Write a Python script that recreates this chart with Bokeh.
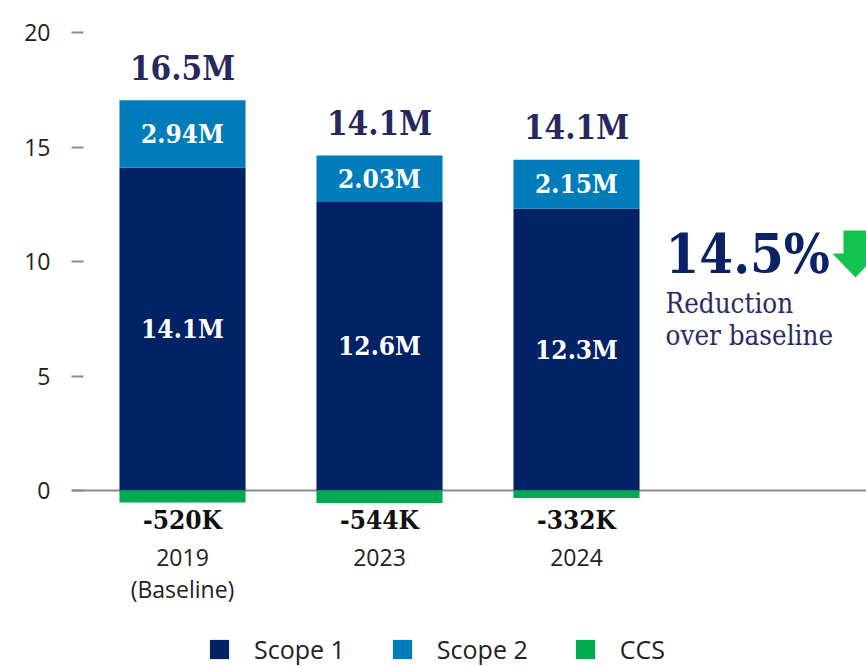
import numpy as np
from bokeh.plotting import figure
from bokeh.models import ColumnDataSource, Range1d, FixedTicker, Span, Legend, LegendItem
from bokeh.core.properties import value
from bokeh.embed import file_html
from bokeh.resources import INLINE

# ---- data ----
years = ["2019\n(Baseline)", "2023", "2024"]
scope1 = [14.1, 12.6, 12.3]
scope2 = [2.94, 2.03, 2.15]
ccs = [-0.52, -0.544, -0.332]
total_labels = ["16.5M", "14.1M", "14.1M"]
scope1_labels = ["14.1M", "12.6M", "12.3M"]
scope2_labels = ["2.94M", "2.03M", "2.15M"]
ccs_labels = ["-520K", "-544K", "-332K"]
y_ticks = [0, 5, 10, 15, 20]
reduction_pct = "14.5%"
reduction_lines = ["Reduction", "over baseline"]

# ---- style ----
C_S1 = "#022266"
C_S2 = "#007CBA"
C_CCS = "#00AA50"
C_ARROW = "#14C24F"
BOLD = "DejaVu Serif Condensed"
SANS = "Open Sans"

x = np.arange(len(years))
s1 = np.array(scope1)
s2 = np.array(scope2)
cc = np.array(ccs)

src = ColumnDataSource(dict(
    x=x,
    s1_bottom=np.zeros(len(x)), s1_top=s1,
    s2_bottom=s1, s2_top=s1 + s2,
    cc_bottom=cc, cc_top=np.zeros(len(x)),
    s1_mid=s1 / 2, s2_mid=s1 + s2 / 2,
    tot_y=s1 + s2 + 1.4,
    cc_y=np.full(len(x), -1.27),
    tot_lab=total_labels, s1_lab=scope1_labels, s2_lab=scope2_labels, cc_lab=ccs_labels,
))

p = figure(frame_width=795, frame_height=666,
           x_range=Range1d(-0.5635, 3.472), y_range=Range1d(-7.686, 21.40),
           output_backend="svg", toolbar_location=None,
           min_border_left=71, min_border_right=0, min_border_top=0, min_border_bottom=0)
p.outline_line_color = None
p.xgrid.visible = False
p.ygrid.visible = False
p.background_fill_color = "white"
p.border_fill_color = "white"

zero = Span(location=0, dimension="width", line_color="#8c8c8c", line_width=2, level="underlay")
p.add_layout(zero)

BW = 0.64
r1 = p.vbar(x="x", bottom="s1_bottom", top="s1_top", width=BW, source=src, fill_color=C_S1, line_color=None)
r2 = p.vbar(x="x", bottom="s2_bottom", top="s2_top", width=BW, source=src, fill_color=C_S2, line_color=None)
r3 = p.vbar(x="x", bottom="cc_bottom", top="cc_top", width=BW, source=src, fill_color=C_CCS, line_color=None)

p.text(x="x", y="tot_y", text="tot_lab", source=src, text_align="center", text_baseline="middle",
       text_font=value(BOLD), text_font_style="bold", text_font_size="33px", text_color="#27295E")
p.text(x="x", y="s2_mid", text="s2_lab", source=src, text_align="center", text_baseline="middle",
       text_font=value(BOLD), text_font_style="bold", text_font_size="26px", text_color="white")
p.text(x="x", y="s1_mid", text="s1_lab", source=src, text_align="center", text_baseline="middle",
       text_font=value(BOLD), text_font_style="bold", text_font_size="26px", text_color="white")
p.text(x="x", y="cc_y", text="cc_lab", source=src, text_align="center", text_baseline="middle",
       text_font=value(BOLD), text_font_style="bold", text_font_size="26px", text_color="#111111")

# annotation
NOTE_X = 2.452
p.text(x=[NOTE_X], y=[10.31], text=[reduction_pct], text_align="left", text_baseline="middle",
       text_font=value(BOLD), text_font_style="bold", text_font_size="54px", text_color="#0B2266")
p.text(x=[NOTE_X, NOTE_X], y=[8.17, 6.77], text=reduction_lines, text_align="left", text_baseline="middle",
       text_font=value(BOLD), text_font_size="27.5px", text_color="#2A2D63")
# down arrow
ax, ay = 3.416, 9.30          # tip
hw, hh, sw, sh = 0.117, 1.05, 0.061, 1.0
p.patch(x=[ax, ax - hw, ax - sw, ax - sw, ax + sw, ax + sw, ax + hw],
        y=[ay, ay + hh, ay + hh, ay + hh + sh, ay + hh + sh, ay + hh, ay + hh],
        fill_color=C_ARROW, line_color=None)

# axes
p.yaxis.ticker = FixedTicker(ticks=y_ticks)
p.yaxis.axis_line_color = None
p.yaxis.major_tick_in = 12
p.yaxis.major_tick_out = 0
p.yaxis.major_tick_line_color = "#8c8c8c"
p.yaxis.major_tick_line_width = 2
p.yaxis.minor_tick_line_color = None
p.yaxis.major_label_standoff = 21
p.yaxis.major_label_text_font = SANS
p.yaxis.major_label_text_font_size = "23px"
p.yaxis.major_label_text_color = "#222222"

p.xaxis.fixed_location = -2.096
p.xaxis.ticker = FixedTicker(ticks=list(x))
p.xaxis.major_label_overrides = {int(i): years[i] for i in range(len(years))}
p.xaxis.axis_line_color = None
p.xaxis.major_tick_line_color = None
p.xaxis.major_tick_in = 0
p.xaxis.major_tick_out = 0
p.xaxis.minor_tick_line_color = None
p.xaxis.minor_tick_out = 0
p.xaxis.major_label_standoff = 2
p.xaxis.major_label_text_font = SANS
p.xaxis.major_label_text_font_size = "23px"
p.xaxis.major_label_text_color = "#222222"
p.xaxis.major_label_text_line_height = 1.0

legend = Legend(items=[LegendItem(label="Scope 1", renderers=[r1]),
                       LegendItem(label="Scope 2", renderers=[r2]),
                       LegendItem(label="CCS", renderers=[r3])],
                orientation="horizontal", location=(136, 0),
                glyph_width=24, glyph_height=24, label_standoff=23, spacing=45,
                padding=0, margin=0, border_line_color=None, background_fill_alpha=0,
                label_text_font=SANS, label_text_font_size="25px", label_text_color="#222222")
p.add_layout(legend, "center")

open("out.html", "w").write(file_html(p, INLINE))
